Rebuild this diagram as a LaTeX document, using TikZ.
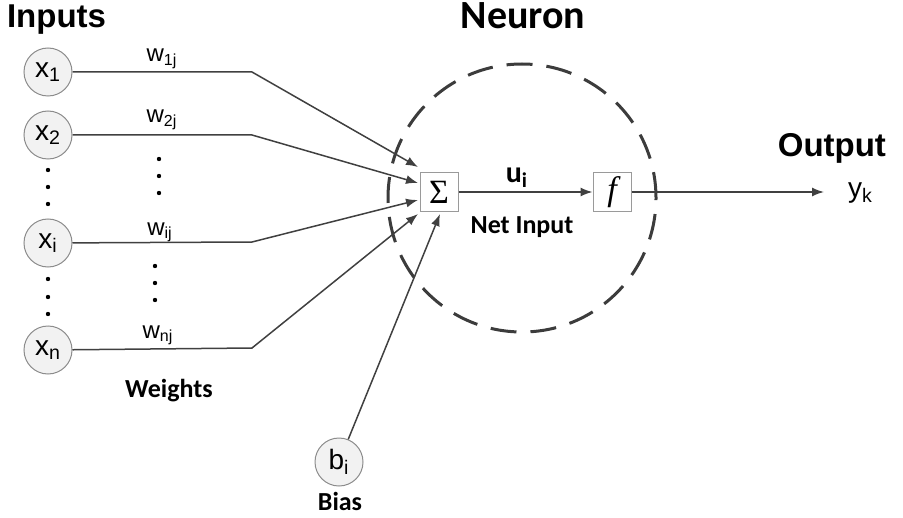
\documentclass[tikz,border=0pt]{standalone}
\usepackage{fontspec}
\setmainfont{Liberation Sans}
\newfontfamily\labelfont{Carlito}
\newfontfamily\timesfont{Liberation Serif}
\usetikzlibrary{arrows.meta}

\definecolor{linegray}{HTML}{404040}
\definecolor{rimgray}{HTML}{8C8C8C}
\definecolor{unitfill}{HTML}{F2F2F2}
\definecolor{boxgray}{HTML}{9A9A9A}
\definecolor{neurongray}{HTML}{3C3C3C}

\tikzset{
  unit/.style={circle, draw=rimgray, fill=unitfill, line width=0.5pt, minimum size=24pt, inner sep=0pt, font=\fontsize{14}{14}\selectfont},
  opbox/.style={draw=boxgray, fill=white, line width=0.5pt, minimum size=19pt, inner sep=0pt, font=\timesfont\fontsize{17}{17}\selectfont},
  weight/.style={anchor=base, font=\fontsize{12}{12}\selectfont},
  heading/.style={anchor=base, font=\bfseries\fontsize{16.5}{16.5}\selectfont},
  caption/.style={anchor=base, font=\labelfont\bfseries\fontsize{13}{13}\selectfont},
  wire/.style={draw=linegray, line width=0.75pt},
}

\begin{document}
\begin{tikzpicture}[x=0.5pt,y=-0.5pt,>={Latex[length=6pt,width=4.5pt]}]
  \useasboundingbox (0,0) rectangle (903,518);

  \node[circle, draw=neurongray, line width=1.5pt, dash pattern=on 13pt off 7pt, minimum size=134pt, inner sep=0pt] (neuron) at (522,198) {};

  \node[heading, anchor=base west] (inputs) at (0,28) {Inputs};
  \node[heading, font=\labelfont\bfseries\fontsize{20}{20}\selectfont] (title) at (523,29) {Neuron};
  \node[heading, anchor=base east] (output) at (893,157) {Output};

  \node[unit] (x1) at (48,72) {x\textsubscript{1}};
  \node[unit] (x2) at (48,135) {x\textsubscript{2}};
  \node[unit] (xi) at (48,243) {x\textsubscript{i}};
  \node[unit] (xn) at (48,350) {x\textsubscript{n}};
  \node[unit] (bias) at (339,462) {b\textsubscript{i}};

  \node[opbox] (sum) at (439,192) {Σ};
  \node[opbox, font=\timesfont\itshape\fontsize{17}{17}\selectfont] (act) at (612,192) {f};

  \node[weight] (w1) at (162,62) {w\textsubscript{1j}};
  \node[weight] (w2) at (162,123) {w\textsubscript{2j}};
  \node[weight] (wi) at (160,235) {w\textsubscript{ij}};
  \node[weight] (wn) at (158,338) {w\textsubscript{nj}};

  \node[caption] (weights) at (169,397) {Weights};
  \node[caption] (biaslabel) at (340,510) {Bias};
  \node[caption] (netinput) at (522,233) {Net Input};
  \node[caption, font=\labelfont\bfseries\fontsize{15}{15}\selectfont] (ui) at (517,183) {u\textsubscript{i}};
  \node[anchor=base west, font=\fontsize{14}{14}\selectfont] (yk) at (841,198) {y\textsubscript{k}};

  \coordinate (k1) at (252,72);
  \coordinate (k2) at (252,135);
  \coordinate (ki) at (252,242);
  \coordinate (kn) at (252,348);
  \coordinate (t1) at (418,167);
  \coordinate (t2) at (418,183);
  \coordinate (t3) at (418,200);
  \coordinate (t4) at (418,214);
  \coordinate (tb) at (440,214);
  \coordinate (out) at (824,192);

  \draw[wire,->] (x1) -- (k1) -- (t1);
  \draw[wire,->] (x2) -- (k2) -- (t2);
  \draw[wire,->] (xi) -- (ki) -- (t3);
  \draw[wire,->] (xn) -- (kn) -- (t4);
  \draw[wire,->] (bias) -- (tb);
  \draw[wire,->] (sum) -- (act);
  \draw[wire,->] (act) -- (out);

  \fill (48,170) circle (1.1pt);
  \fill (48,187) circle (1.1pt);
  \fill (48,204) circle (1.1pt);
  \fill (48,279) circle (1.1pt);
  \fill (48,297) circle (1.1pt);
  \fill (48,314) circle (1.1pt);
  \fill (159,159) circle (1.1pt);
  \fill (159,176) circle (1.1pt);
  \fill (159,193) circle (1.1pt);
  \fill (155,266) circle (1.1pt);
  \fill (155,283) circle (1.1pt);
  \fill (155,300) circle (1.1pt);
\end{tikzpicture}
\end{document}
